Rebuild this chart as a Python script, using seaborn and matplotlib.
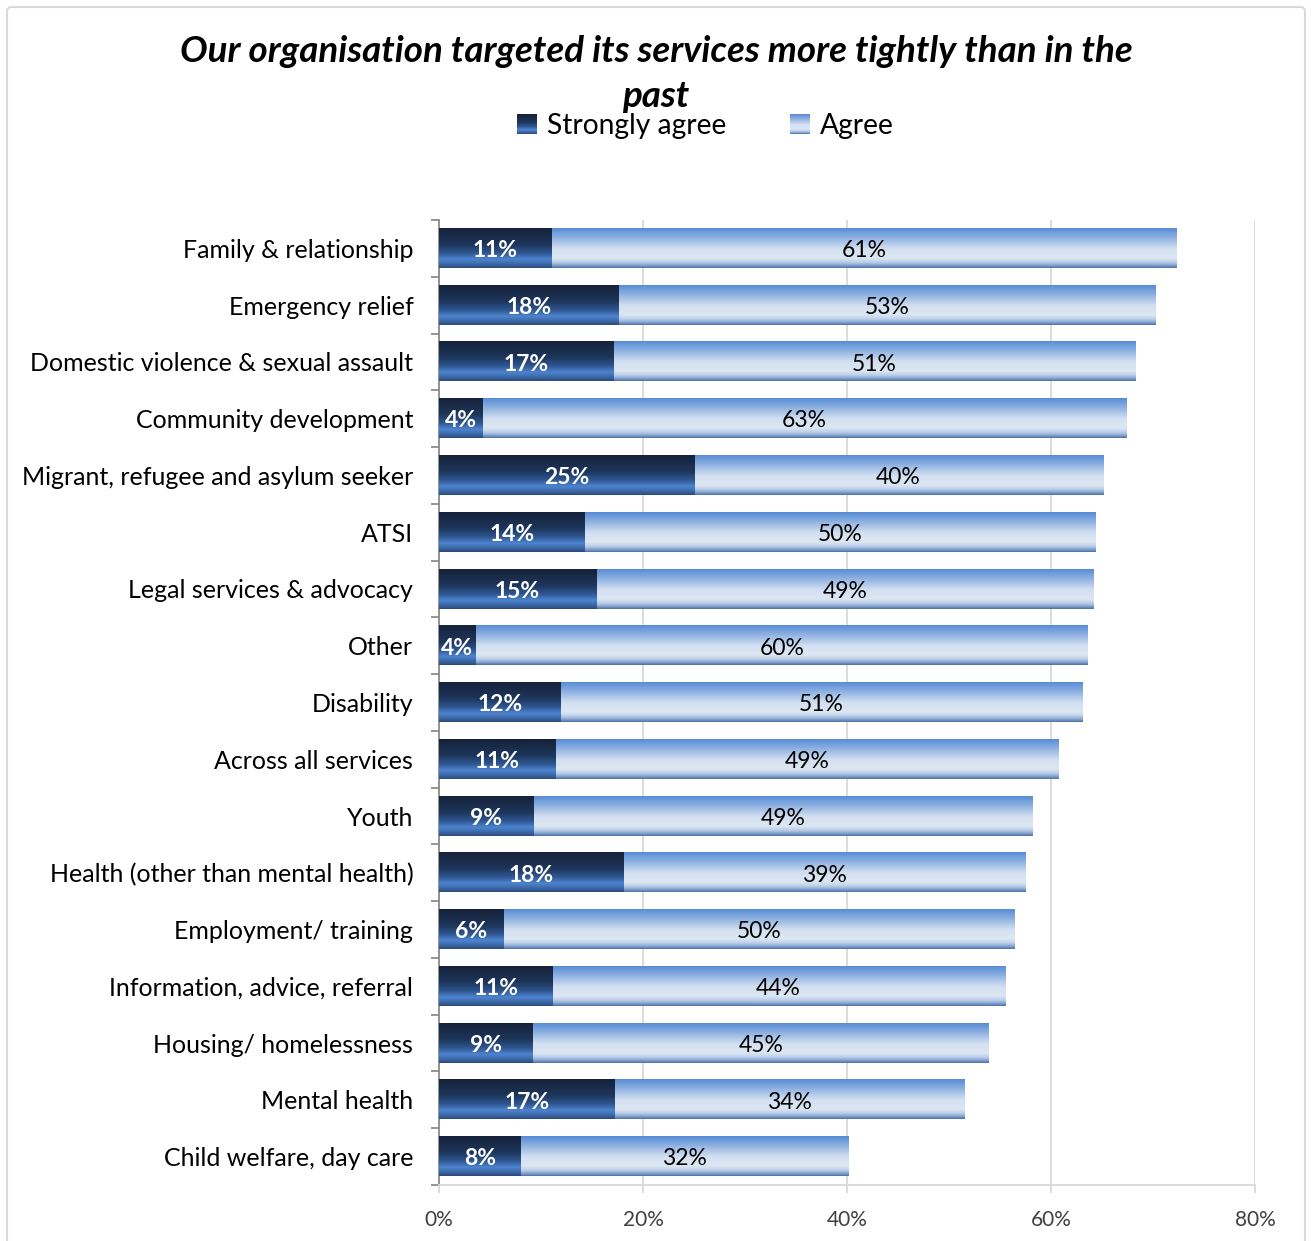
import numpy as np
import pandas as pd
import matplotlib
matplotlib.use("Agg")
import matplotlib.pyplot as plt
from matplotlib.colors import LinearSegmentedColormap
from matplotlib.patches import Rectangle, FancyBboxPatch
from matplotlib.legend_handler import HandlerBase
import seaborn as sns

# ---- data -------------------------------------------------------------
categories = [
    "Family & relationship",
    "Emergency relief",
    "Domestic violence & sexual assault",
    "Community development",
    "Migrant, refugee and asylum seeker",
    "ATSI",
    "Legal services & advocacy",
    "Other",
    "Disability",
    "Across all services",
    "Youth",
    "Health (other than mental health)",
    "Employment/ training",
    "Information, advice, referral",
    "Housing/ homelessness",
    "Mental health",
    "Child welfare, day care",
]
strongly_agree = [11.0, 17.6, 17.1, 4.3, 25.0, 14.3, 15.4, 3.6, 11.9, 11.4,
                  9.3, 18.1, 6.3, 11.1, 9.2, 17.2, 8.0]
agree = [61.3, 52.6, 51.2, 63.1, 40.1, 50.1, 48.8, 60.0, 51.2, 49.3,
         48.9, 39.4, 50.1, 44.4, 44.7, 34.3, 32.1]
x_ticks = [0, 20, 40, 60, 80]
series_names = ["Strongly agree", "Agree"]
title = "Our organisation targeted its services more tightly than in the\npast"

df = pd.DataFrame({"category": categories,
                   "strongly_agree": strongly_agree,
                   "agree": agree})
df["total"] = df["strongly_agree"] + df["agree"]

# ---- style ------------------------------------------------------------
sns.set_theme(style="white")
plt.rcParams["font.family"] = ["Lato", "DejaVu Sans"]
plt.rcParams["text.color"] = "black"

W, H = 1311, 1241
fig = plt.figure(figsize=(W / 100, H / 100), dpi=100)
ax = fig.add_axes([439 / W, 1 - 1185 / H, (1255 - 439) / W, (1185 - 220) / H])

# vertical gradients (top -> bottom)
dark_cmap = LinearSegmentedColormap.from_list("dark", [
    (0.00, "#16223a"), (0.40, "#1d3559"), (0.62, "#2e5590"),
    (0.78, "#4d84cf"), (0.90, "#3c68a8"), (1.00, "#2c4a7a")])
light_cmap = LinearSegmentedColormap.from_list("light", [
    (0.00, "#568cd6"), (0.22, "#8aaee0"), (0.52, "#d4e0f1"),
    (0.75, "#dde7f3"), (0.86, "#b8cce8"), (0.94, "#7f9fcc"), (1.00, "#4a6fa3")])

# stacked horizontal bars: totals first, strongly-agree segment on top
sns.barplot(data=df, y="category", x="total", color="#9db8e0",
            width=0.69, orient="h", ax=ax, zorder=2)
n_light = len(ax.patches)
sns.barplot(data=df, y="category", x="strongly_agree", color="#1d3559",
            width=0.69, orient="h", ax=ax, zorder=3)

ax.set_xlim(0, 80)
ax.set_ylim(len(categories) - 0.5, -0.5)
xlim, ylim = ax.get_xlim(), ax.get_ylim()

# paint each bar with its gradient
grad = np.linspace(0, 1, 256).reshape(-1, 1)
for i, p in enumerate(ax.patches):
    x0, y0 = p.get_x(), p.get_y()
    w, h = p.get_width(), p.get_height()
    cmap = light_cmap if i < n_light else dark_cmap
    z = 2 if i < n_light else 3
    ax.imshow(grad, cmap=cmap, aspect="auto", interpolation="bilinear",
              extent=[x0, x0 + w, y0 + h, y0], origin="upper", zorder=z)
    p.set_visible(False)
ax.set_xlim(xlim)
ax.set_ylim(ylim)

# value labels
for i, (sa, ag) in enumerate(zip(strongly_agree, agree)):
    ax.text(sa / 2, i + 0.04, f"{sa:.0f}%", ha="center", va="center",
            color="white", fontsize=16.5, fontweight="bold", zorder=5)
    ax.text(sa + ag / 2, i + 0.04, f"{ag:.0f}%", ha="center", va="center",
            color="black", fontsize=16.5, zorder=5)

# axes cosmetics
ax.set_xlabel("")
ax.set_ylabel("")
ax.set_xticks(x_ticks)
ax.set_xticklabels([f"{t}%" for t in x_ticks], fontsize=15, color="#404040")
ax.grid(axis="x", color="#d9d9d9", linewidth=1.3, zorder=0)
ax.set_axisbelow(True)
for s in ["top", "right"]:
    ax.spines[s].set_visible(False)
ax.spines["left"].set_color("#8c8c8c")
ax.spines["left"].set_linewidth(1.3)
ax.spines["bottom"].set_color("#d9d9d9")
ax.spines["bottom"].set_linewidth(1.3)
ax.tick_params(axis="x", which="major", length=6, width=1.3, color="#d9d9d9",
               pad=12, bottom=True)
ax.tick_params(axis="y", which="major", length=0, pad=18.5, labelsize=18,
               labelcolor="black")
ax.set_yticks(np.arange(len(categories) + 1) - 0.5, minor=True)
ax.tick_params(axis="y", which="minor", length=6, width=1.3, color="#8c8c8c",
               left=True)

# title
fig.text(656 / W, 1 - 74 / H, title, ha="center", va="center", color="black",
         fontsize=26.5, fontweight="bold", fontstyle="italic", linespacing=1.45)


# legend with gradient swatches
class GradientHandler(HandlerBase):
    def __init__(self, cmap):
        super().__init__()
        self.cmap = cmap

    def create_artists(self, legend, orig_handle, xdescent, ydescent,
                       width, height, fontsize, trans):
        n = 20
        side = height * 1.0
        x0 = width - side
        y0 = -ydescent + (height - side) / 2
        arts = []
        for k in range(n):
            c = self.cmap(1 - (k + 0.5) / n)
            arts.append(Rectangle((x0, y0 + side * k / n), side, side / n,
                                  facecolor=c, edgecolor="none",
                                  transform=trans))
        return arts


h_dark = Rectangle((0, 0), 1, 1)
h_light = Rectangle((0, 0), 1, 1)
fig.legend([h_dark, h_light], series_names,
           handler_map={h_dark: GradientHandler(dark_cmap),
                        h_light: GradientHandler(light_cmap)},
           loc="center", bbox_to_anchor=(704 / W, 1 - 126 / H), ncol=2,
           frameon=False, fontsize=20.3, handlelength=0.8, handletextpad=0.35,
           columnspacing=2.15)

# outer chart border
fig.patches.append(FancyBboxPatch((7 / W, -0.01), (1305 - 7) / W, 1 - 7 / H + 0.01,
                                  boxstyle="round,pad=0,rounding_size=0.004",
                                  transform=fig.transFigure, facecolor="none",
                                  edgecolor="#d9d9d9", linewidth=1.5))

fig.savefig("out.png", dpi=100)
